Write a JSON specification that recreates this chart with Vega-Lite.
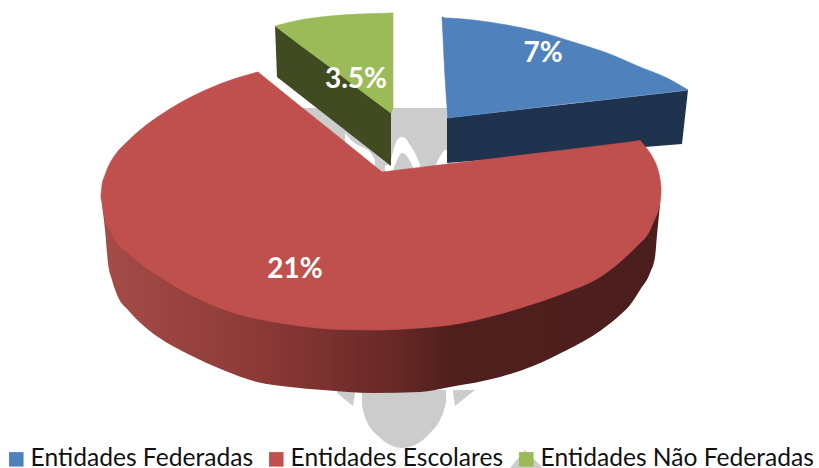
{
"$schema":"https://vega.github.io/schema/vega-lite/v6.json",
"width":819,"height":468,"padding":0,
"autosize":"none",
"background":"white",
"config":{"view":{"stroke":null},"font":"Lato"},
"datasets":{
"marca":[
{"forma":"bloco","x":303,"y0":108,"y1":178},{"forma":"bloco","x":450,"y0":108,"y1":178},
{"forma":"asa1","x":337,"y0":390,"y1":393},{"forma":"asa1","x":353,"y0":390,"y1":406},{"forma":"asa1","x":355,"y0":390,"y1":393},
{"forma":"asa2","x":453,"y0":390,"y1":392},{"forma":"asa2","x":455,"y0":390,"y1":406},{"forma":"asa2","x":475,"y0":390,"y1":390},
{"forma":"base","x":510,"y0":468,"y1":468},{"forma":"base","x":525,"y0":450,"y1":468},{"forma":"base","x":543,"y0":468,"y1":468}
],
"gota":[
{"x":362,"y0":390,"y1":405},{"x":364,"y0":390,"y1":414},{"x":367,"y0":390,"y1":422},{"x":372,"y0":390,"y1":430},{"x":377,"y0":390,"y1":435},{"x":390,"y0":390,"y1":445},{"x":402,"y0":390,"y1":448},{"x":417,"y0":390,"y1":444},{"x":430,"y0":390,"y1":433},{"x":440,"y0":390,"y1":420},{"x":444,"y0":390,"y1":410},{"x":446,"y0":390,"y1":402}
],
"chamas":[
{"forma":"c1","x":391,"y0":160,"y1":175},{"forma":"c1","x":395,"y0":145,"y1":165},{"forma":"c1","x":398,"y0":139,"y1":158},{"forma":"c1","x":402,"y0":137,"y1":153},{"forma":"c1","x":406,"y0":139,"y1":155},{"forma":"c1","x":410,"y0":145,"y1":161},{"forma":"c1","x":415,"y0":153,"y1":170},{"forma":"c1","x":420,"y0":165,"y1":172},
{"forma":"c2","x":436,"y0":165,"y1":172},{"forma":"c2","x":438,"y0":160,"y1":172},{"forma":"c2","x":441,"y0":155,"y1":172},{"forma":"c2","x":445,"y0":150,"y1":172},{"forma":"c2","x":448,"y0":150,"y1":172},
{"forma":"c3","x":345,"y0":133,"y1":145},{"forma":"c3","x":352,"y0":141,"y1":152},{"forma":"c3","x":360,"y0":146,"y1":160},{"forma":"c3","x":370,"y0":152,"y1":172},{"forma":"c3","x":375,"y0":160,"y1":175},
{"forma":"c4","x":385,"y0":165,"y1":174},{"forma":"c4","x":391,"y0":165,"y1":174}
],
"ladoNaoFederadas":[
{"x":275,"y0":26,"y1":26},{"x":277,"y0":27,"y1":77},{"x":391,"y0":113,"y1":166}
],
"ladoFederadas":[
{"x":447,"y0":118,"y1":163},{"x":682,"y0":91,"y1":144},{"x":688,"y0":90,"y1":90}
],
"ladoEscolar":[
{"x":102,"y0":203,"y1":204},{"x":105,"y0":205,"y1":230},{"x":108,"y0":208,"y1":263},{"x":112,"y0":215,"y1":280},{"x":118,"y0":225,"y1":297},{"x":128,"y0":235,"y1":310},{"x":145,"y0":250,"y1":327},{"x":158,"y0":265,"y1":337},{"x":190,"y0":285,"y1":355},{"x":223,"y0":300,"y1":370},{"x":257,"y0":310,"y1":382},{"x":290,"y0":318,"y1":387},{"x":323,"y0":322,"y1":390},{"x":373,"y0":323,"y1":393},{"x":420,"y0":321,"y1":392},{"x":450,"y0":318,"y1":387},{"x":500,"y0":306,"y1":377},{"x":533,"y0":295,"y1":366},{"x":567,"y0":283,"y1":350},{"x":600,"y0":265,"y1":331},{"x":620,"y0":250,"y1":315},{"x":630,"y0":240,"y1":305},{"x":640,"y0":230,"y1":290},{"x":650,"y0":215,"y1":273},{"x":655,"y0":205,"y1":257},{"x":657,"y0":200,"y1":235},{"x":660,"y0":195,"y1":205}
],
"topos":[
{"serie":"Entidades Não Federadas","parte":"n1","x":275,"y0":26,"y1":26},{"serie":"Entidades Não Federadas","parte":"n1","x":300,"y0":20,"y1":45},{"serie":"Entidades Não Federadas","parte":"n1","x":330,"y0":16,"y1":67},{"serie":"Entidades Não Federadas","parte":"n1","x":360,"y0":14,"y1":90},{"serie":"Entidades Não Federadas","parte":"n1","x":391,"y0":13,"y1":113},{"serie":"Entidades Não Federadas","parte":"n2","x":391,"y0":13,"y1":113},{"serie":"Entidades Não Federadas","parte":"n2","x":393,"y0":13,"y1":108},
{"serie":"Entidades Federadas","parte":"f1","x":442,"y0":17,"y1":17},{"serie":"Entidades Federadas","parte":"f1","x":443,"y0":17,"y1":37},{"serie":"Entidades Federadas","parte":"f1","x":445,"y0":18,"y1":77},{"serie":"Entidades Federadas","parte":"f1","x":448,"y0":18,"y1":118},
{"serie":"Entidades Federadas","parte":"f2","x":448,"y0":18,"y1":118},{"serie":"Entidades Federadas","parte":"f2","x":473,"y0":20,"y1":115},{"serie":"Entidades Federadas","parte":"f2","x":507,"y0":25,"y1":111},{"serie":"Entidades Federadas","parte":"f2","x":540,"y0":32,"y1":107},{"serie":"Entidades Federadas","parte":"f2","x":573,"y0":42,"y1":103},{"serie":"Entidades Federadas","parte":"f2","x":607,"y0":53,"y1":99.5},{"serie":"Entidades Federadas","parte":"f2","x":640,"y0":67,"y1":95.6},{"serie":"Entidades Federadas","parte":"f2","x":667,"y0":78,"y1":92.5},{"serie":"Entidades Federadas","parte":"f2","x":688,"y0":90,"y1":90},
{"serie":"Entidades Escolares","parte":"e1","x":101,"y0":195,"y1":198},{"serie":"Entidades Escolares","parte":"e1","x":102,"y0":185,"y1":203},{"serie":"Entidades Escolares","parte":"e1","x":105,"y0":175,"y1":220},{"serie":"Entidades Escolares","parte":"e1","x":110,"y0":163,"y1":230},{"serie":"Entidades Escolares","parte":"e1","x":115,"y0":155,"y1":240},{"serie":"Entidades Escolares","parte":"e1","x":128,"y0":141,"y1":253},{"serie":"Entidades Escolares","parte":"e1","x":145,"y0":126,"y1":267},{"serie":"Entidades Escolares","parte":"e1","x":162,"y0":114,"y1":278},{"serie":"Entidades Escolares","parte":"e1","x":178,"y0":104,"y1":288},{"serie":"Entidades Escolares","parte":"e1","x":195,"y0":95,"y1":297},{"serie":"Entidades Escolares","parte":"e1","x":228,"y0":81,"y1":311},{"serie":"Entidades Escolares","parte":"e1","x":258,"y0":72,"y1":319},
{"serie":"Entidades Escolares","parte":"e2","x":258,"y0":72,"y1":319},{"serie":"Entidades Escolares","parte":"e2","x":300,"y0":106,"y1":326},{"serie":"Entidades Escolares","parte":"e2","x":340,"y0":138,"y1":329.5},{"serie":"Entidades Escolares","parte":"e2","x":382,"y0":172,"y1":330},
{"serie":"Entidades Escolares","parte":"e3","x":382,"y0":172,"y1":330},{"serie":"Entidades Escolares","parte":"e3","x":420,"y0":167.4,"y1":328},{"serie":"Entidades Escolares","parte":"e3","x":450,"y0":163.8,"y1":325},{"serie":"Entidades Escolares","parte":"e3","x":500,"y0":157.8,"y1":314},{"serie":"Entidades Escolares","parte":"e3","x":533,"y0":153.8,"y1":304},{"serie":"Entidades Escolares","parte":"e3","x":567,"y0":149.7,"y1":292},{"serie":"Entidades Escolares","parte":"e3","x":600,"y0":145.7,"y1":277},{"serie":"Entidades Escolares","parte":"e3","x":620,"y0":143.3,"y1":262},{"serie":"Entidades Escolares","parte":"e3","x":640,"y0":140.5,"y1":243},
{"serie":"Entidades Escolares","parte":"e4","x":640,"y0":140.5,"y1":243},{"serie":"Entidades Escolares","parte":"e4","x":650,"y0":153,"y1":230},{"serie":"Entidades Escolares","parte":"e4","x":653,"y0":158,"y1":223},{"serie":"Entidades Escolares","parte":"e4","x":658,"y0":170,"y1":211},{"serie":"Entidades Escolares","parte":"e4","x":660,"y0":179,"y1":203},{"serie":"Entidades Escolares","parte":"e4","x":661,"y0":187,"y1":195}
],
"rotulos":[
{"serie":"Entidades Federadas","valor":"7%","x":543,"y":54},
{"serie":"Entidades Escolares","valor":"21%","x":295,"y":270},
{"serie":"Entidades Não Federadas","valor":"3.5%","x":356,"y":80}
]
},
"layer":[
{"data":{"name":"marca"},"mark":{"type":"area","color":"#cccccc"},
 "encoding":{"x":{"field":"x","type":"quantitative","scale":{"domain":[0,819],"nice":false,"zero":false},"axis":null},"y":{"field":"y0","type":"quantitative","scale":{"domain":[468,0],"nice":false,"zero":false},"axis":null},"y2":{"field":"y1"},"detail":{"field":"forma"}}},
{"data":{"name":"gota"},"mark":{"type":"area","color":"#cccccc","interpolate":"monotone"},
 "encoding":{"x":{"field":"x","type":"quantitative","axis":null},"y":{"field":"y0","type":"quantitative","axis":null},"y2":{"field":"y1"}}},
{"data":{"name":"chamas"},"mark":{"type":"area","color":"white","interpolate":"monotone"},
 "encoding":{"x":{"field":"x","type":"quantitative","axis":null},"y":{"field":"y0","type":"quantitative","axis":null},"y2":{"field":"y1"},"detail":{"field":"forma"}}},
{"data":{"name":"ladoNaoFederadas"},"mark":{"type":"area","color":"#404b21"},
 "encoding":{"x":{"field":"x","type":"quantitative","axis":null},"y":{"field":"y0","type":"quantitative","axis":null},"y2":{"field":"y1"}}},
{"data":{"name":"ladoFederadas"},"mark":{"type":"area","color":"#1f334e"},
 "encoding":{"x":{"field":"x","type":"quantitative","axis":null},"y":{"field":"y0","type":"quantitative","axis":null},"y2":{"field":"y1"}}},
{"data":{"name":"ladoEscolar"},"mark":{"type":"area","interpolate":"monotone","fill":{"gradient":"linear","x1":0,"y1":0,"x2":1,"y2":0,"stops":[{"offset":0,"color":"#a54c48"},{"offset":0.3,"color":"#8a3836"},{"offset":0.5,"color":"#6b2a28"},{"offset":0.63,"color":"#4f1f1d"},{"offset":1,"color":"#4a1e1d"}]}},
 "encoding":{"x":{"field":"x","type":"quantitative","axis":null},"y":{"field":"y0","type":"quantitative","axis":null},"y2":{"field":"y1"}}},
{"data":{"name":"topos"},"mark":{"type":"area","interpolate":"monotone","strokeWidth":0.6},
 "encoding":{"x":{"field":"x","type":"quantitative","axis":null},"y":{"field":"y0","type":"quantitative","axis":null},"y2":{"field":"y1"},"detail":{"field":"parte"},
 "stroke":{"field":"serie","type":"nominal","legend":null,"scale":{"domain":["Entidades Federadas","Entidades Escolares","Entidades Não Federadas"],"range":["#4f81bd","#c0504d","#9bbb59"]}},
 "fill":{"field":"serie","type":"nominal","scale":{"domain":["Entidades Federadas","Entidades Escolares","Entidades Não Federadas"],"range":["#4f81bd","#c0504d","#9bbb59"]},
 "legend":{"title":null,"orient":"none","direction":"horizontal","legendX":4,"legendY":447,"symbolType":"square","symbolSize":210,"symbolStrokeWidth":0,"symbolOpacity":1,"labelFont":"Lato","labelFontSize":24.6,"labelColor":"#111111","labelLimit":400,"columnPadding":10,"labelOffset":2,"gridAlign":"each","padding":0}}}},
{"data":{"name":"rotulos"},"mark":{"type":"text","font":"Lato","fontWeight":"bold","fontSize":28,"color":"white","align":"center","baseline":"middle"},
 "encoding":{"x":{"field":"x","type":"quantitative","axis":null},"y":{"field":"y","type":"quantitative","axis":null},"text":{"field":"valor"}}}
]
}
